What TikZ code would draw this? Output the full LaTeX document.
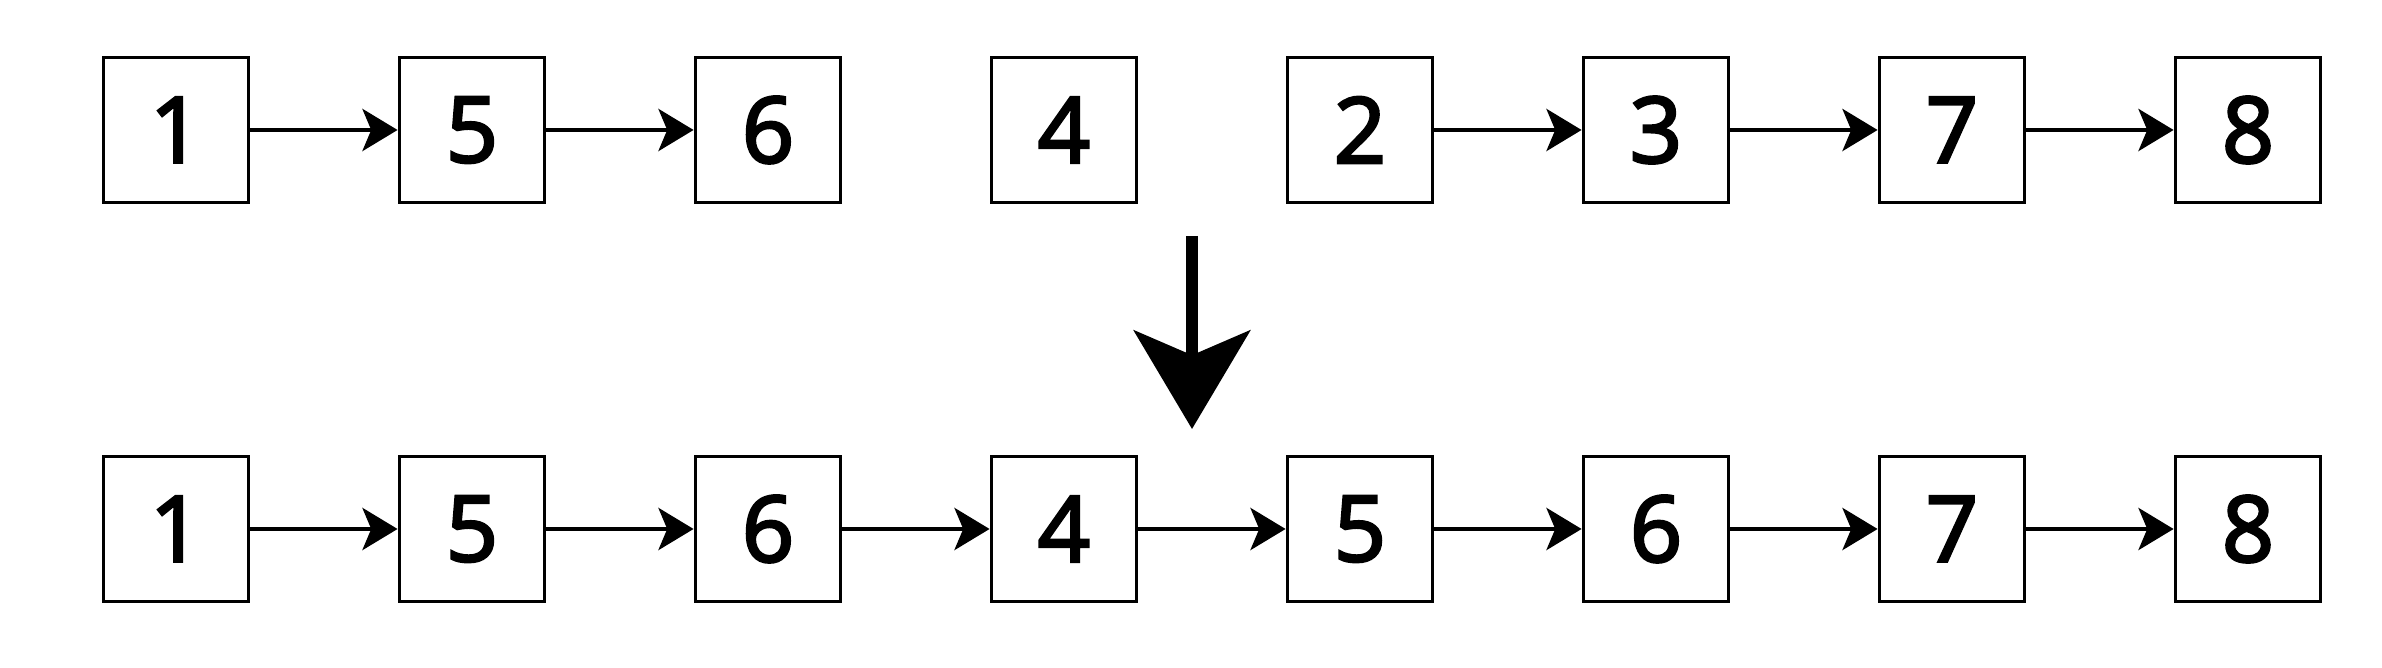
\documentclass[tikz,border=0pt]{standalone}
\usepackage{fontspec}
\setmainfont{Open Sans}
\newfontfamily\cellfont{Open Sans}[FakeBold=3]
\usetikzlibrary{positioning}
\usetikzlibrary{arrows.meta}
\tikzset{
  cell/.style={rectangle,draw,line width=1.1pt,minimum size=1.45cm,inner sep=0pt,font=\fontsize{26}{30}\cellfont},
  link/.style={-{Stealth[length=10pt,width=12pt,inset=2.5pt]},line width=1.1pt},
  bigarrow/.style={-{Stealth[length=28pt,width=33pt,inset=7pt]},line width=3.4pt}
}
\begin{document}
\begin{tikzpicture}[node distance=2.96cm,on grid]
  \useasboundingbox (0,0) rectangle (23.82,-6.68);
  % first row
  \node [cell] (t1) at (1.76,-1.30) {1};
  \node [cell,right=of t1] (t2) {5};
  \node [cell,right=of t2] (t3) {6};
  \node [cell,right=of t3] (t4) {4};
  \node [cell,right=of t4] (t5) {2};
  \node [cell,right=of t5] (t6) {3};
  \node [cell,right=of t6] (t7) {7};
  \node [cell,right=of t7] (t8) {8};
  \draw [link] (t1) -- (t2);
  \draw [link] (t2) -- (t3);
  \draw [link] (t5) -- (t6);
  \draw [link] (t6) -- (t7);
  \draw [link] (t7) -- (t8);
  % merge arrow
  \coordinate (from) at (11.92,-2.36);
  \coordinate (to) at (11.92,-4.29);
  \draw [bigarrow] (from) -- (to);
  % second row
  \node [cell] (b1) at (1.76,-5.29) {1};
  \node [cell,right=of b1] (b2) {5};
  \node [cell,right=of b2] (b3) {6};
  \node [cell,right=of b3] (b4) {4};
  \node [cell,right=of b4] (b5) {5};
  \node [cell,right=of b5] (b6) {6};
  \node [cell,right=of b6] (b7) {7};
  \node [cell,right=of b7] (b8) {8};
  \draw [link] (b1) -- (b2);
  \draw [link] (b2) -- (b3);
  \draw [link] (b3) -- (b4);
  \draw [link] (b4) -- (b5);
  \draw [link] (b5) -- (b6);
  \draw [link] (b6) -- (b7);
  \draw [link] (b7) -- (b8);
\end{tikzpicture}
\end{document}
